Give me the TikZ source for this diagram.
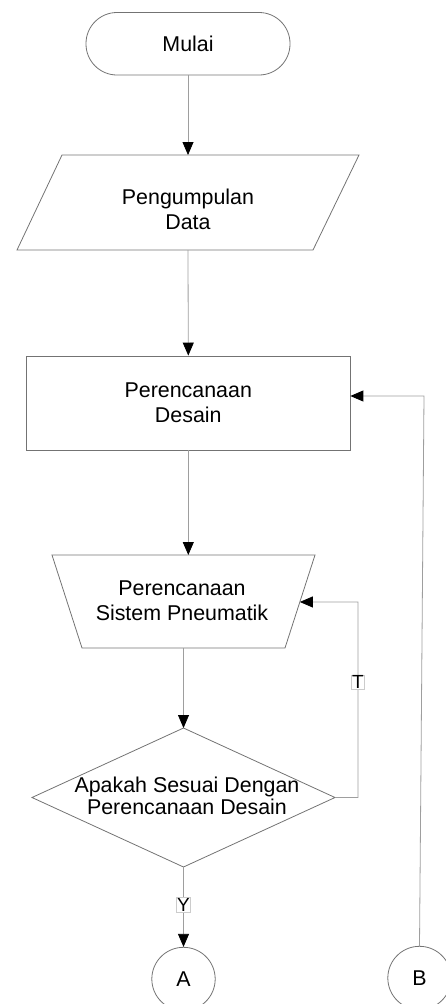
\documentclass[tikz,border=0pt]{standalone}
\usepackage{fontspec}
\setmainfont{Liberation Sans}
\usetikzlibrary{arrows.meta,calc}
\begin{document}
\begin{tikzpicture}[x=1bp,y=-1bp,
  shapeline/.style={draw=black!55, line width=0.8bp},
  conn/.style={draw=black!38, line width=0.8bp},
  arr/.style={conn, -{Triangle[length=13bp,width=11bp,color=black]}},
  txt/.style={font=\fontsize{21.4bp}{25bp}\selectfont, align=center, inner sep=0pt},
  lbl/.style={font=\fontsize{19bp}{20bp}\selectfont, fill=white, draw=black!20, line width=0.5bp, inner sep=0.8bp}
]
\useasboundingbox (0,0) rectangle (446,1004);

% Terminator
\node[shapeline, txt, rounded corners=31bp, minimum width=204bp, minimum height=62.5bp] (mulai) at (188,43.75) {Mulai};

% Parallelogram
\coordinate (p1) at (62,155);
\coordinate (p2) at (359,155);
\coordinate (p3) at (313,250);
\coordinate (p4) at (17,250);
\draw[shapeline] (p1) -- (p2) -- (p3) -- (p4) -- cycle;
\node[txt] (data) at (188,209) {Pengumpulan\\Data};
\coordinate (dataTop) at (188,155);
\coordinate (dataBot) at (188,250);

% Rectangle
\node[shapeline, txt, minimum width=323.3bp, minimum height=94bp] (desain) at (188.3,403) {Perencanaan\\Desain};

% Trapezoid
\coordinate (t1) at (52,555);
\coordinate (t2) at (315,555);
\coordinate (t3) at (285,648);
\coordinate (t4) at (82,648);
\draw[shapeline] (t1) -- (t2) -- (t3) -- (t4) -- cycle;
\node[txt] (pneu) at (182,601) {Perencanaan\\Sistem Pneumatik};
\coordinate (pneuBot) at ($(t4)!0.5!(t3)$);
\coordinate (pneuRight) at ($(t2)!0.505!(t3)$);

% Diamond
\coordinate (d1) at (183.5,728);
\coordinate (d2) at (335,797.5);
\coordinate (d3) at (183.5,867);
\coordinate (d4) at (32,797.5);
\draw[shapeline] (d1) -- (d2) -- (d3) -- (d4) -- cycle;
\node[txt, font=\fontsize{21.4bp}{22bp}\selectfont] (cek) at (187,796) {Apakah Sesuai Dengan\\Perencanaan Desain};

% Connectors (circles)
\node[shapeline, txt, circle, minimum size=63.4bp] (A) at (183.5,979) {A};
\node[shapeline, txt, circle, minimum size=63.4bp] (B) at (419.5,978) {B};

% Connectors
\coordinate (tc1) at (358,797.5);
\coordinate (tc2) at (358,602);
\coordinate (bc) at (424,396);

\draw[arr] (mulai.south) -- (dataTop);
\draw[arr] (dataBot) -- (desain.north);
\draw[arr] (desain.south) -- (desain.south |- t1);
\draw[arr] (pneuBot) -- (d1);
\draw[arr] (d3) -- node[lbl, pos=0.47] {Y} (A.north);
\draw[arr] (d2) -- (tc1) -- node[lbl, pos=0.59] {T} (tc2) -- (pneuRight);
\draw[arr] (B.north) -- (bc) -- (bc -| desain.east);
\end{tikzpicture}
\end{document}
